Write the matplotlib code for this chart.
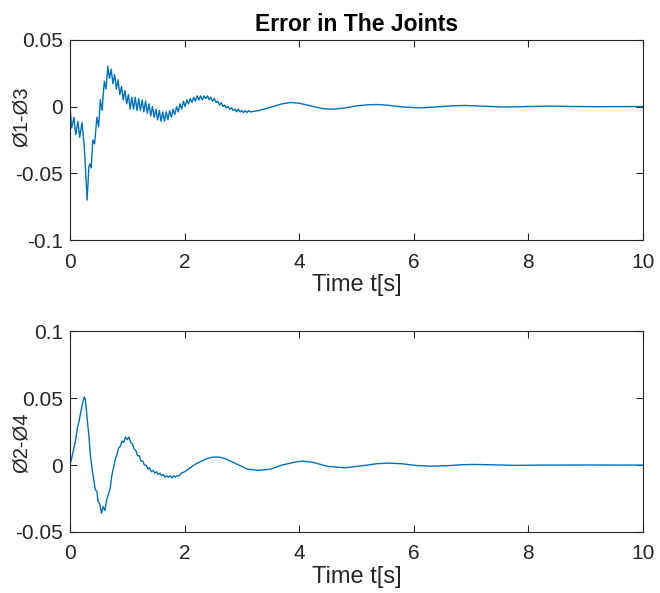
import numpy as np
import matplotlib.pyplot as plt
import matplotlib

matplotlib.rcParams['font.family'] = ['Liberation Sans', 'DejaVu Sans']
matplotlib.rcParams['font.size'] = 15

# joint error 1-3
t1 = [0.00, 0.03, 0.07, 0.10, 0.14, 0.17, 0.21, 0.25, 0.30, 0.33, 0.35, 0.37,
      0.40, 0.43, 0.47, 0.50, 0.53, 0.56, 0.60, 0.63, 0.66, 0.69, 0.72, 0.75,
      0.78, 0.81, 0.84, 0.87, 0.90, 0.93, 0.96, 0.99, 1.02, 1.05, 1.08, 1.11,
      1.14, 1.17, 1.20, 1.23, 1.26, 1.29, 1.32, 1.35, 1.38, 1.41, 1.44, 1.47,
      1.50, 1.53, 1.56, 1.59, 1.62, 1.65, 1.68, 1.71, 1.74, 1.77, 1.80, 1.83,
      1.86, 1.89, 1.92, 1.95, 1.98, 2.01, 2.04, 2.07, 2.10, 2.13, 2.16, 2.19,
      2.22, 2.25, 2.28, 2.31, 2.34, 2.37, 2.40, 2.43, 2.46, 2.49, 2.52, 2.55,
      2.58, 2.61, 2.64, 2.67, 2.70, 2.73, 2.76, 2.79, 2.82, 2.85, 2.88, 2.91,
      2.94, 2.97, 3.00, 3.03, 3.06, 3.09, 3.12, 3.15, 3.30, 3.50, 3.70, 3.85,
      4.00, 4.20, 4.40, 4.60, 4.80, 5.00, 5.20, 5.35, 5.50, 5.80, 6.10, 6.40,
      6.70, 6.90, 7.20, 7.60, 8.00, 8.40, 8.80, 9.20, 10.0]
e13 = [0.000, -0.016, -0.008, -0.021, -0.011, -0.023, -0.012, -0.030, -0.070,
       -0.045, -0.043, -0.046, -0.025, -0.028, -0.008, -0.015, 0.005, -0.003,
       0.019, 0.013, 0.030, 0.021, 0.028, 0.017, 0.024, 0.013, 0.020, 0.009,
       0.015, 0.005, 0.012, 0.002, 0.009, -0.002, 0.007, -0.002, 0.007, -0.003,
       0.006, -0.003, 0.005, -0.004, 0.004, -0.005, 0.002, -0.007, 0.000,
       -0.008, -0.002, -0.010, -0.003, -0.011, -0.004, -0.011, -0.004, -0.010,
       -0.003, -0.008, -0.002, -0.006, 0.000, -0.004, 0.002, -0.002, 0.004,
       0.000, 0.005, 0.002, 0.006, 0.003, 0.007, 0.004, 0.008, 0.005, 0.008,
       0.005, 0.008, 0.006, 0.008, 0.005, 0.007, 0.004, 0.006, 0.003, 0.004,
       0.001, 0.003, 0.000, 0.001, -0.001, 0.000, -0.002, -0.001, -0.003,
       -0.002, -0.004, -0.002, -0.004, -0.003, -0.0045, -0.003, -0.0045,
       -0.003, -0.004, -0.003, -0.0005, 0.002, 0.003, 0.0025, 0.0005, -0.0015,
       -0.002, -0.001, 0.0005, 0.0013, 0.0015, 0.0012, -0.0003, -0.001,
       -0.0003, 0.0006, 0.0008, 0.0003, -0.0004, 0.0, 0.0003, 0.0, -0.0001, 0.0]

# joint error 2-4
t2 = [0.00, 0.04, 0.07, 0.10, 0.13, 0.16, 0.19, 0.22, 0.25, 0.27, 0.30, 0.33,
      0.36, 0.39, 0.42, 0.44, 0.47, 0.49, 0.52, 0.55, 0.58, 0.61, 0.64, 0.67,
      0.70, 0.73, 0.76, 0.79, 0.82, 0.85, 0.88, 0.91, 0.94, 0.97, 1.00, 1.03,
      1.06, 1.09, 1.12, 1.15, 1.18, 1.21, 1.24, 1.27, 1.30, 1.33, 1.36, 1.39,
      1.42, 1.45, 1.48, 1.51, 1.54, 1.57, 1.60, 1.63, 1.66, 1.69, 1.72, 1.75,
      1.78, 1.81, 1.84, 1.87, 1.90, 1.95, 2.00, 2.10, 2.20, 2.30, 2.40, 2.50,
      2.60, 2.70, 2.80, 2.95, 3.10, 3.30, 3.50, 3.70, 3.90, 4.05, 4.25, 4.50,
      4.80, 5.10, 5.35, 5.55, 5.80, 6.05, 6.30, 6.60, 6.85, 7.05, 7.40, 7.80,
      8.20, 9.00, 10.0]
e24 = [0.000, 0.007, 0.013, 0.019, 0.028, 0.033, 0.040, 0.046, 0.051, 0.049,
       0.035, 0.022, 0.006, -0.004, -0.012, -0.018, -0.020, -0.027, -0.029,
       -0.036, -0.031, -0.034, -0.026, -0.022, -0.018, -0.008, -0.002, 0.004,
       0.008, 0.013, 0.014, 0.018, 0.017, 0.021, 0.019, 0.021, 0.017, 0.016,
       0.012, 0.011, 0.007, 0.007, 0.003, 0.003, 0.000, 0.000, -0.003, -0.002,
       -0.005, -0.004, -0.006, -0.005, -0.007, -0.006, -0.008, -0.007, -0.009,
       -0.008, -0.009, -0.008, -0.0095, -0.008, -0.009, -0.008, -0.008, -0.006,
       -0.005, -0.002, 0.001, 0.003, 0.005, 0.006, 0.006, 0.005, 0.003, 0.000,
       -0.003, -0.004, -0.003, 0.000, 0.002, 0.003, 0.002, -0.001, -0.002,
       -0.0005, 0.001, 0.0015, 0.001, -0.0003, -0.0008, -0.0004, 0.0003,
       0.0005, 0.0002, -0.0002, 0.0, 0.0001, 0.0]

xticks = [0, 2, 4, 6, 8, 10]
yticks1 = [-0.1, -0.05, 0, 0.05]
ytick_lab1 = ['-0.1', '-0.05', '0', '0.05']
yticks2 = [-0.05, 0, 0.05, 0.1]
ytick_lab2 = ['-0.05', '0', '0.05', '0.1']

fig = plt.figure(figsize=(6.6, 5.93), dpi=100)
ax1 = fig.add_axes([0.106, 0.595, 0.868, 0.338])
ax2 = fig.add_axes([0.106, 0.103, 0.868, 0.338])

blue = '#0072BD'
dark = '#262626'

for ax, t, e, yt, ylab, ylim, name, ly in [
        (ax1, t1, e13, yticks1, ytick_lab1, (-0.1, 0.05), 'Ø1-Ø3', 0.615),
        (ax2, t2, e24, yticks2, ytick_lab2, (-0.05, 0.1), 'Ø2-Ø4', 0.445)]:
    ax.plot(t, e, color=blue, lw=1.0)
    ax.set_xlim(0, 10)
    ax.set_ylim(*ylim)
    ax.set_xticks(xticks)
    ax.set_xticklabels([str(v) for v in xticks])
    ax.set_yticks(yt)
    ax.set_yticklabels(ylab)
    ax.tick_params(direction='in', length=5, width=0.8, top=True, right=True,
                   colors=dark, labelsize=15)
    ax.tick_params(axis='x', pad=9)
    ax.tick_params(axis='y', pad=5)
    for s in ax.spines.values():
        s.set_color(dark)
        s.set_linewidth(0.8)
    ax.set_xlabel('Time t[s]', fontsize=17, color=dark, labelpad=2)
    ax.set_ylabel(name, fontsize=14.5, color=dark)
    ax.yaxis.set_label_coords(-0.068, ly)

ax1.set_title('Error in The Joints', fontsize=16.5, fontweight='bold', pad=6)

plt.savefig('out.png', dpi=100)
